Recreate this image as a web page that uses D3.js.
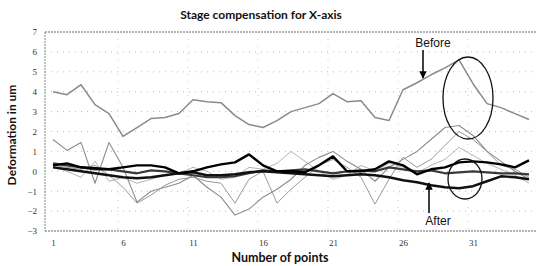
<!DOCTYPE html>
<html>
<head>
<meta charset="utf-8">
<script src="https://cdn.jsdelivr.net/npm/d3@7"></script>
<style>
  body { margin: 0; background: #fff; }
  svg { display: block; }
</style>
</head>
<body>
<svg id="chart" width="539" height="266"></svg>
<script>
// point index along x (1..35)
const points = d3.range(1, 36);
const xTickValues = [1, 6, 11, 16, 21, 26, 31];
const yTickValues = [-3, -2, -1, 0, 1, 2, 3, 4, 5, 6, 7];

// before compensation (grey)
const before1 = [4.0, 3.85, 4.35, 3.35, 2.9, 1.75, 2.2, 2.65, 2.7, 2.9, 3.6, 3.5, 3.45, 2.8, 2.35,
  2.2, 2.55, 3.0, 3.2, 3.4, 3.9, 3.5, 3.55, 2.7, 2.55, 4.1, 4.45, 4.85, 5.2, 5.6, 4.4, 3.4, 3.2, 2.9, 2.6];
const before2 = [1.6, 1.05, 1.45, -0.6, 1.45, 0.2, -1.55, -1.0, -0.8, -0.6, -0.2, -0.8, -1.3, -2.2, -1.9,
  -1.3, -0.9, -0.4, 0.3, 0.7, 1.0, 0.5, 0.1, -0.5, 0.2, 0.6, 1.0, 1.6, 2.2, 2.3, 1.8, 1.0, 0.5, 0.0, -0.4];
const before3 = [0.3, 0.2, 0.1, 0.3, -0.2, -0.8, -1.6, -1.2, -0.7, -0.4, -0.3, -0.5, -0.6, -1.6, -0.4,
  0.0, -1.6, -0.9, -0.3, 0.3, 0.6, 0.2, -0.3, -1.65, -0.4, 0.7, 0.2, 0.6, 1.3, 2.0, 1.6, 1.0, 0.3, 0.1, -0.3];
const before4 = [0.2, 0.0, -0.3, 0.5, -0.5, -0.3, -0.6, -0.4, -0.2, -0.1, 0.2, 0.0, -0.4, -0.3, 0.2,
  0.1, 0.4, 1.0, 0.5, 0.0, -0.4, -0.2, 0.3, 0.0, 0.4, 0.2, -0.1, 0.3, 0.6, 1.2, 0.8, 0.4, 0.1, -0.2, -0.6];

// after compensation (black)
const after1 = [0.3, 0.4, 0.2, 0.15, 0.1, 0.2, 0.3, 0.3, 0.2, -0.1, 0.0, 0.2, 0.35, 0.45, 0.85,
  0.3, 0.0, 0.0, -0.05, 0.3, 0.75, 0.0, 0.0, 0.1, 0.5, 0.3, -0.15, 0.1, 0.2, 0.45, 0.5, 0.45, 0.35, 0.2, 0.55];
const after2 = [0.2, 0.1, 0.0, -0.1, -0.2, -0.3, -0.35, -0.3, -0.2, -0.1, -0.05, -0.2, -0.2, -0.15, -0.05,
  0.0, -0.05, -0.1, -0.15, -0.2, -0.25, -0.2, -0.15, -0.2, -0.3, -0.45, -0.55, -0.7, -0.8, -0.85, -0.75, -0.5, -0.25, -0.3, -0.4];
const after3 = [0.4, 0.3, 0.2, 0.1, 0.1, 0.0, -0.1, 0.05, 0.0, -0.1, -0.2, -0.3, -0.3, -0.25, -0.1,
  0.05, 0.0, 0.05, 0.1, 0.0, -0.1, 0.0, 0.05, 0.0, 0.2, 0.1, 0.0, 0.05, -0.1, -0.05, 0.0, -0.05, -0.1, -0.1, -0.15];

const svg = d3.select('#chart');

const plot = { left: 45, right: 536, top: 32, bottom: 231 };

const x = d3.scalePoint().domain(points).range([53, 529]);
const y = d3.scaleLinear().domain([-3, 7]).range([plot.bottom, plot.top]);

// faint dotted grid
svg.append('g')
  .selectAll('line')
  .data(yTickValues.slice(1, -1))
  .join('line')
    .attr('x1', plot.left)
    .attr('x2', plot.right)
    .attr('y1', d => y(d))
    .attr('y2', d => y(d))
    .attr('stroke', '#bbb')
    .attr('stroke-width', 1)
    .attr('stroke-dasharray', '1,5');

svg.append('g')
  .selectAll('line')
  .data(xTickValues.slice(1))
  .join('line')
    .attr('x1', d => x(d) - 5)
    .attr('x2', d => x(d) - 5)
    .attr('y1', plot.top)
    .attr('y2', plot.bottom)
    .attr('stroke', '#ccc')
    .attr('stroke-width', 1)
    .attr('stroke-dasharray', '1,6');

// plot frame (top, bottom, left)
const frame = svg.append('g')
  .attr('stroke', '#666')
  .attr('stroke-width', 1.2)
  .attr('stroke-dasharray', '2,1');
frame.append('line').attr('x1', plot.left).attr('x2', plot.right).attr('y1', plot.top).attr('y2', plot.top);
frame.append('line').attr('x1', plot.left).attr('x2', plot.right).attr('y1', plot.bottom).attr('y2', plot.bottom);
frame.append('line').attr('x1', plot.left).attr('x2', plot.left).attr('y1', plot.top).attr('y2', plot.bottom)
  .attr('stroke', '#999');

// axes: labels only
const yAxis = d3.axisLeft(y).tickValues(yTickValues).tickSize(0).tickPadding(8);
const xAxis = d3.axisBottom(x).tickValues(xTickValues).tickSize(0).tickPadding(9);

svg.append('g')
  .attr('transform', `translate(${plot.left}, 0)`)
  .call(yAxis)
  .call(g => g.select('.domain').remove())
  .call(g => g.selectAll('text')
    .attr('font-family', 'Liberation Serif, serif')
    .attr('font-size', 9)
    .attr('fill', '#333'));

svg.append('g')
  .attr('transform', `translate(0, ${plot.bottom})`)
  .call(xAxis)
  .call(g => g.select('.domain').remove())
  .call(g => g.selectAll('text')
    .attr('font-family', 'Liberation Serif, serif')
    .attr('font-size', 9)
    .attr('fill', '#333'));

// series
const line = d3.line()
  .x((d, i) => x(points[i]))
  .y(d => y(d));

const series = [
  { values: before4, color: '#b4b4b4', width: 1 },
  { values: before3, color: '#9a9a9a', width: 1 },
  { values: before2, color: '#8c8c8c', width: 1.1 },
  { values: before1, color: '#8a8a8a', width: 1.5 },
  { values: after3, color: '#3a3a3a', width: 2.2 },
  { values: after2, color: '#111', width: 2.4 },
  { values: after1, color: '#000', width: 2.4 },
];

svg.append('g')
  .selectAll('path')
  .data(series)
  .join('path')
    .attr('d', d => line(d.values))
    .attr('fill', 'none')
    .attr('stroke', d => d.color)
    .attr('stroke-width', d => d.width)
    .attr('stroke-linejoin', 'round');

// annotations
const defs = svg.append('defs');
defs.append('marker')
  .attr('id', 'arrow')
  .attr('viewBox', '0 0 10 10')
  .attr('refX', 9)
  .attr('refY', 5)
  .attr('markerWidth', 5)
  .attr('markerHeight', 6)
  .attr('orient', 'auto')
  .append('path')
    .attr('d', 'M0,0 L10,5 L0,10 z')
    .attr('fill', '#000');

const notes = svg.append('g')
  .attr('font-family', 'Liberation Sans, Arial, sans-serif')
  .attr('font-size', 12)
  .attr('fill', '#111');

notes.append('text').attr('x', 433).attr('y', 47).attr('text-anchor', 'middle').text('Before');
notes.append('text').attr('x', 438).attr('y', 225).attr('text-anchor', 'middle').text('After');

notes.append('line')
  .attr('x1', 423).attr('y1', 50).attr('x2', 423).attr('y2', 78)
  .attr('stroke', '#000').attr('stroke-width', 1.5)
  .attr('marker-end', 'url(#arrow)');
notes.append('line')
  .attr('x1', 429).attr('y1', 213).attr('x2', 429).attr('y2', 183)
  .attr('stroke', '#000').attr('stroke-width', 1.5)
  .attr('marker-end', 'url(#arrow)');

notes.append('ellipse')
  .attr('cx', 468).attr('cy', 98).attr('rx', 25).attr('ry', 41)
  .attr('fill', 'none').attr('stroke', '#111').attr('stroke-width', 1.3);
notes.append('ellipse')
  .attr('cx', 465).attr('cy', 179).attr('rx', 17).attr('ry', 20)
  .attr('fill', 'none').attr('stroke', '#111').attr('stroke-width', 1.3);

// titles
svg.append('text')
  .attr('x', 261)
  .attr('y', 19)
  .attr('text-anchor', 'middle')
  .attr('font-family', 'Lato, sans-serif')
  .attr('font-weight', 'bold')
  .attr('font-size', 12)
  .attr('fill', '#111')
  .text('Stage compensation for X-axis');

svg.append('text')
  .attr('x', 280)
  .attr('y', 262)
  .attr('text-anchor', 'middle')
  .attr('font-family', 'Lato, sans-serif')
  .attr('font-weight', 'bold')
  .attr('font-size', 12.5)
  .attr('fill', '#111')
  .text('Number of points');

svg.append('text')
  .attr('transform', 'translate(16, 135) rotate(-90)')
  .attr('text-anchor', 'middle')
  .attr('font-family', 'Lato, sans-serif')
  .attr('font-weight', 'bold')
  .attr('font-size', 12)
  .attr('fill', '#111')
  .text('Deformation in um');
</script>
</body>
</html>
